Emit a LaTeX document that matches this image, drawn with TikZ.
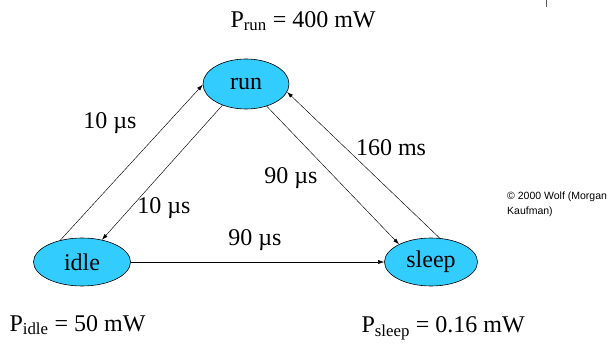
\documentclass[tikz,border=0pt]{standalone}
\usepackage{fontspec}
\setmainfont{Liberation Serif}
\newfontfamily\arialfont{Liberation Sans}
\usetikzlibrary{shapes.geometric,arrows.meta}
\definecolor{statecyan}{RGB}{51,204,255}
\definecolor{tickgray}{RGB}{90,90,90}

\begin{document}
\begin{tikzpicture}[x=1pt,y=-1pt,
    state/.style={ellipse, draw=black, line width=0.6pt, fill=statecyan, inner sep=0pt,
                  font=\fontsize{24}{27}\selectfont},
    trans/.style={-{Latex[length=6pt,width=4pt]}, line width=0.45pt},
    lbl/.style={font=\fontsize{24}{27}\selectfont},
    power/.style={font=\fontsize{24}{27}\selectfont, anchor=west}]
    % Area da figura
    \useasboundingbox (0,0) rectangle (607,344);
    \draw[tickgray, line width=0.8pt] (546,0) -- (546,7);

    % Estados
    \node[state, minimum width=86, minimum height=50] (run) at (246,84) {run};
    \node[state, minimum width=97, minimum height=48] (idle) at (82,262) {idle};
    \node[state, minimum width=93, minimum height=48] (sleep) at (431,262) {sleep};

    % Transicoes
    \draw[trans] (idle.135) -- (run.181);
    \draw[trans] (run.222) -- (idle.48);
    \draw[trans] (run.313) -- (sleep.151);
    \draw[trans] (sleep.70) -- (run.349);
    \draw[trans] (idle.east) -- (sleep.west);

    % Tempos
    \node[lbl] (tir) at (110,123) {10 µs};
    \node[lbl] (tri) at (164,208) {10 µs};
    \node[lbl] (trs) at (291,178) {90 µs};
    \node[lbl] (tsr) at (391,148) {160 ms};
    \node[lbl] (tis) at (255,240) {90 µs};

    % Potencias
    \node[power] (prun) at (227,21) {P\textsubscript{run} = 400 mW};
    \node[power] (pidle) at (6,325) {P\textsubscript{idle} = 50 mW};
    \node[power] (psleep) at (358,328) {P\textsubscript{sleep} = 0.16 mW};

    % Credito
    \node[anchor=north west, align=left, inner sep=0pt,
          font=\arialfont\fontsize{10.5}{15}\selectfont] (cred) at (507,192)
          {© 2000 Wolf (Morgan\\Kaufman)};
\end{tikzpicture}
\end{document}
